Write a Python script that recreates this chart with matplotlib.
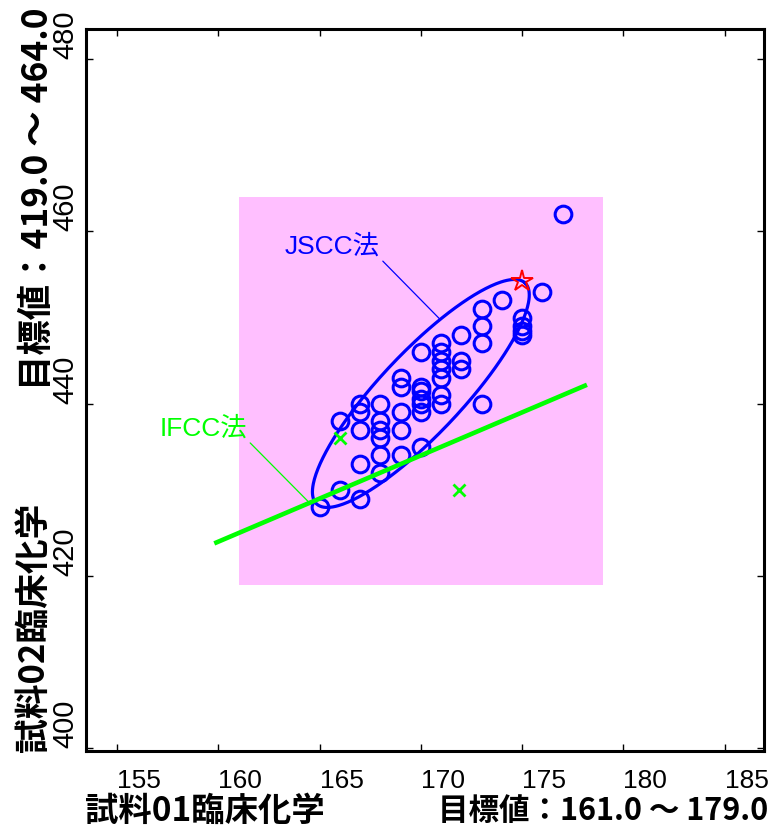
import numpy as np
import matplotlib.pyplot as plt
from matplotlib.patches import Rectangle

plt.rcParams['font.family'] = ['Liberation Sans', 'Noto Sans CJK JP', 'DejaVu Sans']

# JSCC法 results: sample 01 (x) vs sample 02 (y)
jscc_x = [165, 166, 166, 167, 167, 167, 167, 167,
          168, 168, 168, 168, 168, 168, 169, 169, 169, 169, 169,
          170, 170, 170, 170, 170, 170, 170,
          171, 171, 171, 171, 171, 171, 171, 172, 172, 172,
          173, 173, 173, 173, 174, 175, 175, 175, 175, 176, 177]
jscc_y = [428, 438, 430, 440, 439, 437, 433, 429,
          440, 438, 437, 436, 434, 432, 443, 442, 439, 437, 434,
          446, 442, 441.5, 440.5, 440, 439, 435,
          447, 446, 445, 444, 443, 441, 440, 448, 445, 444,
          451, 449, 447, 440, 452, 450, 449, 448.5, 448, 453, 462]

# IFCC法 results
ifcc_x = [166.0, 171.9]
ifcc_y = [436.0, 430.0]

# own lab result
own_x = [175.0]
own_y = [454.3]

# IFCC conversion line
ifcc_line_x = [159.9, 178.1]
ifcc_line_y = [423.9, 442.1]

# target ranges
range_x = (161.0, 179.0)
range_y = (419.0, 464.0)

# JSCC ellipse (centre, cos / sin coefficients)
ell_cx, ell_cy = 170.0, 441.2
ell_ax, ell_bx = 5.15, -1.47
ell_ay, ell_by = 12.82, 3.27

x_ticks = [155, 160, 165, 170, 175, 180, 185]
y_ticks = [400, 420, 440, 460, 480]

fig = plt.figure(figsize=(7.78, 8.32), dpi=100)
ax = fig.add_axes([86 / 778, 1 - 751 / 832, 678 / 778, 722 / 832])

ax.add_patch(Rectangle((range_x[0], range_y[0]), range_x[1] - range_x[0],
                       range_y[1] - range_y[0], facecolor='#ffbfff',
                       edgecolor='none', zorder=0))

ax.plot(jscc_x, jscc_y, 'o', ms=12, mfc='none', mec='#0000ff', mew=2.2, zorder=2)

t = np.linspace(0, 2 * np.pi, 300)
ax.plot(ell_cx + ell_ax * np.cos(t) + ell_bx * np.sin(t),
        ell_cy + ell_ay * np.cos(t) + ell_by * np.sin(t),
        color='#0000ff', lw=2.3, zorder=3)

ax.plot(ifcc_line_x, ifcc_line_y, color='#00ff00', lw=3.3, zorder=4)
ax.plot(ifcc_x, ifcc_y, 'x', ms=8, mec='#00ff00', mew=2, zorder=5)
ax.plot(own_x, own_y, '*', ms=16, mfc='none', mec='#ff0000', mew=1.4, zorder=6)

ax.annotate('JSCC法', xy=(170.95, 449.8), xytext=(165.64, 458.3),
            color='#0000ff', fontsize=19, ha='center', va='center',
            arrowprops=dict(arrowstyle='-', color='#0000ff', lw=0.9,
                            shrinkA=0, shrinkB=0, relpos=(1.0, 0.0)))
ax.annotate('IFCC法', xy=(164.5, 428.5), xytext=(159.27, 437.2),
            color='#00ff00', fontsize=19, ha='center', va='center',
            arrowprops=dict(arrowstyle='-', color='#00ff00', lw=0.9,
                            shrinkA=0, shrinkB=0, relpos=(1.0, 0.0)))

ax.set_xlim(153.46, 186.95)
ax.set_ylim(399.7, 483.5)
ax.set_xticks(x_ticks)
ax.set_yticks(y_ticks)
ax.tick_params(direction='in', length=5, width=1, top=True, right=True)
ax.tick_params(axis='x', pad=13, labelsize=19)
ax.tick_params(axis='y', pad=5, labelsize=21)
for lab in ax.get_xticklabels():
    lab.set_ha('left')
for lab in ax.get_yticklabels():
    lab.set_rotation(90)
    lab.set_va('bottom')
    lab.set_ha('right')
for sp in ax.spines.values():
    sp.set_linewidth(2.2)

cjk = ['Noto Sans CJK JP', 'DejaVu Sans']
fig.text(85 / 778, 1 - 811 / 832, '試料01臨床化学', fontsize=24,
         fontweight='bold', family=cjk, ha='left', va='center')
fig.text(768 / 778, 1 - 811 / 832, '目標値：161.0 ～ 179.0', fontsize=22,
         fontweight='bold', family=cjk, ha='right', va='center')
fig.text(38 / 778, 1 - 8 / 832, '目標値：419.0 ～ 464.0', fontsize=25.5,
         fontweight='bold', family=cjk, rotation=90, ha='center', va='top')
fig.text(33 / 778, 1 - 752 / 832, '試料02臨床化学', fontsize=25,
         fontweight='bold', family=cjk, rotation=90, ha='center', va='bottom')

fig.savefig('out.png', dpi=100)
